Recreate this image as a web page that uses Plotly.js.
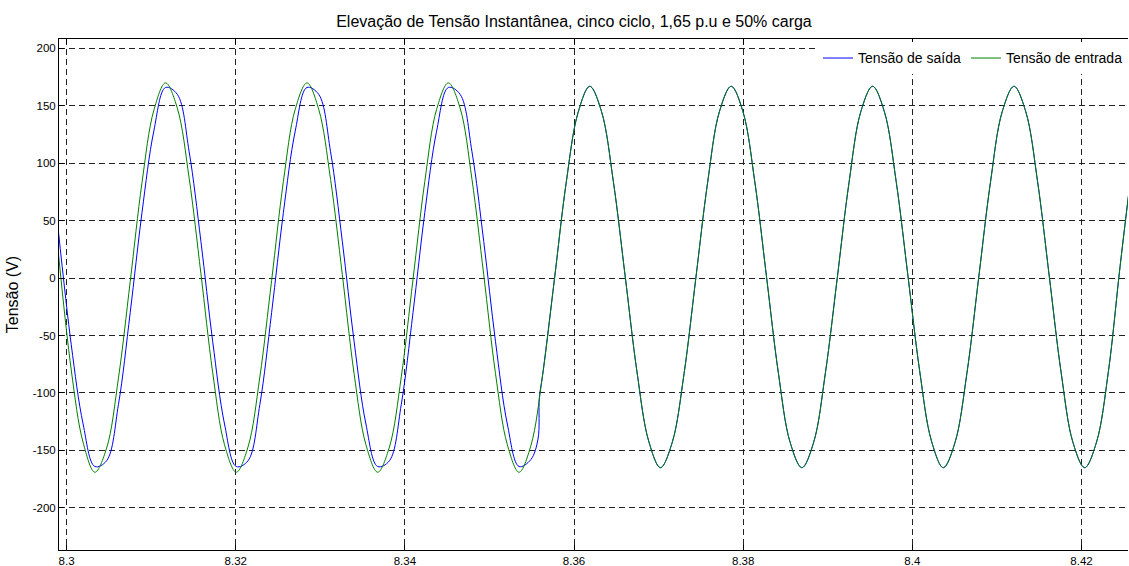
<!DOCTYPE html>
<html>
<head>
<meta charset="utf-8">
<script src="https://cdn.plot.ly/plotly-3.0.1.min.js"></script>
<style>html,body{margin:0;padding:0;background:#fff;}#chart{width:1129px;height:566px;}</style>
</head>
<body>
<div id="chart"></div>
<script>
// Tempo (s) e tensão de entrada (V)
const tempoEntrada = [
  8.29900, 8.30055, 8.30195, 8.30334, 8.30473, 8.30613, 8.30752, 8.30891, 8.31031,
  8.31170, 8.31309, 8.31449, 8.31588, 8.31727, 8.31867, 8.32006, 8.32145, 8.32285,
  8.32424, 8.32563, 8.32703, 8.32842, 8.32981, 8.33121, 8.33260, 8.33399, 8.33539,
  8.33678, 8.33817, 8.33957, 8.34096, 8.34235, 8.34375, 8.34514, 8.34653, 8.34793,
  8.34932, 8.35071, 8.35211, 8.35350, 8.35489, 8.35629, 8.35768, 8.35907, 8.36047,
  8.36186, 8.36325, 8.36465, 8.36604, 8.36743, 8.36883, 8.37022, 8.37161, 8.37301,
  8.37440, 8.37579, 8.37719, 8.37858, 8.37997, 8.38137, 8.38276, 8.38415, 8.38555,
  8.38694, 8.38833, 8.38973, 8.39112, 8.39251, 8.39391, 8.39530, 8.39669, 8.39809,
  8.39948, 8.40087, 8.40227, 8.40366, 8.40505, 8.40645, 8.40784, 8.40923, 8.41063,
  8.41202, 8.41341, 8.41481, 8.41620, 8.41759, 8.41899, 8.42038, 8.42177, 8.42317,
  8.42456, 8.42595
];
const tensaoEntrada = [
  24, -80, -143, -169, -148, -87, -3, 83, 146,
  170, 148, 87, 4, -82, -145, -169, -147, -86,
  -2, 84, 147, 170, 147, 86, 3, -83, -145,
  -169, -147, -86, -1, 84, 147, 170, 148, 86,
  3, -83, -145, -169, -146, -84, -1, 83, 144,
  167, 145, 84, 2, -81, -142, -165, -143, -83,
  0, 83, 145, 167, 145, 84, 1, -82, -143,
  -165, -143, -82, 0, 83, 145, 167, 145, 84,
  2, -81, -142, -165, -143, -83, 0, 83, 145,
  167, 145, 84, 1, -82, -143, -165, -143, -82,
  10, 96
];

// Tempo (s) e tensão de saída (V)
const tempoSaida = [
  8.29900, 8.30055, 8.30195, 8.30334, 8.30473, 8.30613, 8.30752, 8.30891, 8.31031,
  8.31170, 8.31309, 8.31449, 8.31588, 8.31727, 8.31867, 8.32006, 8.32145, 8.32285,
  8.32424, 8.32563, 8.32703, 8.32842, 8.32981, 8.33121, 8.33260, 8.33399, 8.33539,
  8.33678, 8.33817, 8.33957, 8.34096, 8.34235, 8.34375, 8.34514, 8.34653, 8.34793,
  8.34932, 8.35071, 8.35211, 8.35350, 8.35489, 8.35574, 8.35590, 8.35629, 8.35768,
  8.35907, 8.36047,
  8.36186, 8.36325, 8.36465, 8.36604, 8.36743, 8.36883, 8.37022, 8.37161, 8.37301,
  8.37440, 8.37579, 8.37719, 8.37858, 8.37997, 8.38137, 8.38276, 8.38415, 8.38555,
  8.38694, 8.38833, 8.38973, 8.39112, 8.39251, 8.39391, 8.39530, 8.39669, 8.39809,
  8.39948, 8.40087, 8.40227, 8.40366, 8.40505, 8.40645, 8.40784, 8.40923, 8.41063,
  8.41202, 8.41341, 8.41481, 8.41620, 8.41759, 8.41899, 8.42038, 8.42177, 8.42317,
  8.42456, 8.42595
];
const tensaoSaida = [
  43, -58, -127, -164, -159, -110, -30, 57, 128,
  166, 160, 110, 32, -55, -127, -164, -159, -110,
  -30, 57, 128, 166, 160, 110, 32, -55, -127,
  -164, -159, -110, -30, 57, 128, 166, 160, 110,
  32, -55, -127, -164, -158, -140, -104, -84, -1,
  83, 144,
  167, 145, 84, 2, -81, -142, -165, -143, -83,
  0, 83, 145, 167, 145, 84, 1, -82, -143,
  -165, -143, -82, 0, 83, 145, 167, 145, 84,
  2, -81, -142, -165, -143, -83, 0, 83, 145,
  167, 145, 84, 1, -82, -143, -165, -143, -82,
  10, 96
];

const xTicks = [8.3, 8.32, 8.34, 8.36, 8.38, 8.4, 8.42];
const xTickLabels = ["8.3", "8.32", "8.34", "8.36", "8.38", "8.4", "8.42"];
const yTicks = [-200, -150, -100, -50, 0, 50, 100, 150, 200];
const yTickLabels = ["-200", "-150", "-100", "-50", "0", "50", "100", "150", "200"];

const FONT = "Liberation Sans, Arial, sans-serif";

const traces = [
  {
    x: tempoSaida, y: tensaoSaida, type: "scatter", mode: "lines",
    name: "Tensão de saída",
    line: {color: "#0000ff", width: 1, shape: "spline", smoothing: 1}
  },
  {
    x: tempoEntrada, y: tensaoEntrada, type: "scatter", mode: "lines",
    name: "Tensão de entrada",
    line: {color: "#008000", width: 1, shape: "spline", smoothing: 1}
  }
];

const axisCommon = {
  showgrid: true, gridcolor: "#222", griddash: "6px,4px", gridwidth: 1,
  zeroline: false, showline: true, linecolor: "#000", linewidth: 1,
  ticks: "inside", ticklen: 5, tickcolor: "#000",
  tickfont: {family: FONT, size: 11.5, color: "#000"}
};

const layout = {
  width: 1129, height: 566,
  margin: {l: 59, r: 1, t: 39, b: 16},
  paper_bgcolor: "#fff", plot_bgcolor: "#fff",
  font: {family: FONT, color: "#000"},
  title: {
    text: "Elevação de Tensão Instantânea, cinco ciclo, 1,65 p.u e 50% carga",
    font: {family: FONT, size: 16, color: "#000"},
    xref: "container", x: 0.5084, xanchor: "center",
    yref: "container", y: 0.963, yanchor: "middle"
  },
  xaxis: Object.assign({}, axisCommon, {
    mirror: "ticks",
    range: [8.2991, 8.4255],
    tickmode: "array", tickvals: xTicks, ticktext: xTickLabels
  }),
  yaxis: Object.assign({}, axisCommon, {
    mirror: false,
    range: [-236.7, 208.2],
    tickmode: "array", tickvals: yTicks, ticktext: yTickLabels,
    title: {text: "Tensão (V)", font: {family: FONT, size: 16, color: "#000"}, standoff: 10}
  }),
  showlegend: true,
  legend: {
    orientation: "h", x: 1, xanchor: "right", y: 0.962, yanchor: "middle",
    bgcolor: "#fff", borderwidth: 0,
    font: {family: FONT, size: 14, color: "#000"}
  }
};

Plotly.newPlot("chart", traces, layout, {displayModeBar: false, staticPlot: true});
</script>
</body>
</html>
